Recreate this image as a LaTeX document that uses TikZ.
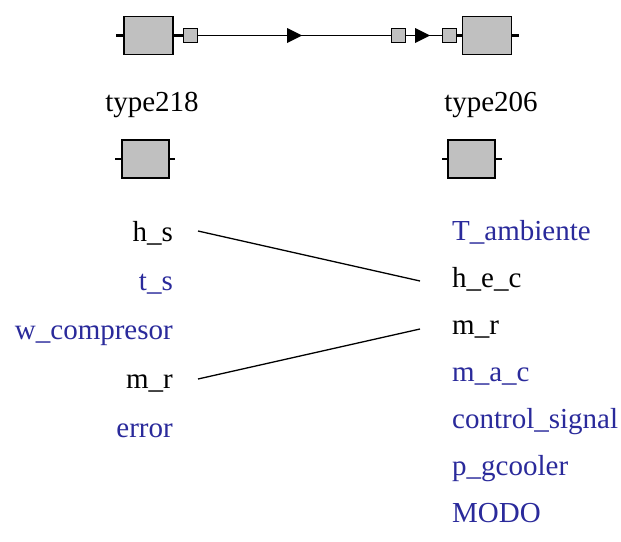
\documentclass[tikz,border=0pt]{standalone}
\usepackage{fontspec}
\setmainfont{Liberation Serif}
\usetikzlibrary{calc}
\definecolor{portblue}{RGB}{42,42,155}
\definecolor{blockgray}{RGB}{192,192,192}
\tikzset{
  block/.style={draw=black, line width=1.8pt, fill=blockgray, minimum width=49pt, minimum height=38pt, inner sep=0pt},
  port/.style={draw=black, line width=1.3pt, fill=blockgray, minimum width=14pt, minimum height=14pt, inner sep=0pt},
  stub/.style={line width=2.4pt},
  wire/.style={line width=1.3pt},
  arrowmark/.style={fill=black, draw=none},
  lbl/.style={font=\fontsize{29}{32}\selectfont, inner sep=0pt},
  inport/.style={lbl, anchor=base east},
  outport/.style={lbl, anchor=base west},
  free/.style={text=portblue},
  linked/.style={text=black},
  link/.style={line width=1.3pt}
}
\begin{document}
\begin{tikzpicture}[x=1pt, y=-1pt]
\useasboundingbox (0,0) rectangle (621,541);
\fill[white] (0,0) rectangle (621,541);

% --- connection row ---
\node[block] (b218) at (148.5,35.5) {};
\node[block] (b206) at (487,35.5) {};
\draw[stub] (116,35.5) -- (b218.west);
\draw[stub] (b218.east) -- (183,35.5);
\node[port] (p1) at (190.5,35.5) {};
\draw[stub] (b206.east) -- (519,35.5);
\node[port] (p2) at (398.5,35.5) {};
\node[port] (p3) at (449.5,35.5) {};
\draw[stub] (p3.east) -- (b206.west);
\draw[wire] (p1.east) -- (p2.west);
\draw[wire] (p2.east) -- (p3.west);
\fill[arrowmark] (287,28) -- (302,35.5) -- (287,43) -- cycle;
\fill[arrowmark] (415,28) -- (430,35.5) -- (415,43) -- cycle;

\node[lbl, anchor=base] (t218) at (152,111) {type218};
\node[lbl, anchor=base] (t206) at (491,111) {type206};

% --- single blocks ---
\node[block, minimum width=47pt] (s218) at (145.5,159) {};
\draw[stub] (115,159) -- (s218.west);
\draw[stub] (s218.east) -- (175,159);
\node[block, minimum width=47pt] (s206) at (471.5,159) {};
\draw[stub] (442,159) -- (s206.west);
\draw[stub] (s206.east) -- (502,159);

% --- outputs of type218 ---
\node[inport, linked] (hs)   at (173,241) {h\_s};
\node[inport, free]   (ts)   at (173,290) {t\_s};
\node[inport, free]   (wc)   at (173,339) {w\_compresor};
\node[inport, linked] (mrl)  at (173,388) {m\_r};
\node[inport, free]   (err)  at (173,437) {error};

% --- inputs of type206 ---
\node[outport, free]   (ta)  at (452,240) {T\_ambiente};
\node[outport, linked] (hec) at (452,287) {h\_e\_c};
\node[outport, linked] (mrr) at (452,334) {m\_r};
\node[outport, free]   (mac) at (452,381) {m\_a\_c};
\node[outport, free]   (cs)  at (452,428) {control\_signal};
\node[outport, free]   (pg)  at (452,475) {p\_gcooler};
\node[outport, free]   (md)  at (452,522) {MODO};

% --- links ---
\coordinate (hsR)  at ($(hs.base east)+(25,-10)$);
\coordinate (hecL) at ($(hec.base west)+(-32,-6)$);
\coordinate (mrlR) at ($(mrl.base east)+(25,-9)$);
\coordinate (mrrL) at ($(mrr.base west)+(-32,-5)$);
\draw[link] (hsR) -- (hecL);
\draw[link] (mrlR) -- (mrrL);
\end{tikzpicture}
\end{document}
